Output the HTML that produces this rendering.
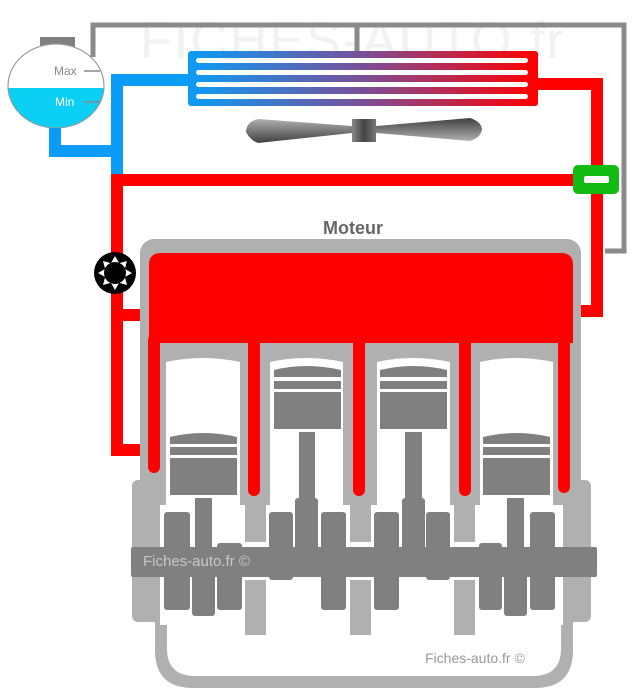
<!DOCTYPE html>
<html><head><meta charset="utf-8"><style>
html,body{margin:0;padding:0;background:#fff;width:640px;height:698px;overflow:hidden}
svg{display:block}
text{font-family:"Liberation Sans",sans-serif}
</style></head><body>
<svg width="640" height="698" viewBox="0 0 640 698" xmlns="http://www.w3.org/2000/svg">
<defs>
<linearGradient id="rad" x1="0" x2="1" y1="0" y2="0">
<stop offset="0" stop-color="#0a9cf7"/><stop offset="0.5" stop-color="#7a4f98"/><stop offset="1" stop-color="#ff0000"/>
</linearGradient>
<linearGradient id="blade" x1="0" x2="0" y1="0" y2="1">
<stop offset="0" stop-color="#b0b0b0"/><stop offset="1" stop-color="#404040"/>
</linearGradient>
<linearGradient id="blade2" x1="0" x2="0" y1="0" y2="1">
<stop offset="0" stop-color="#404040"/><stop offset="1" stop-color="#b0b0b0"/>
</linearGradient>
<linearGradient id="hub" x1="0" x2="1"><stop offset="0" stop-color="#888"/><stop offset="0.5" stop-color="#444"/><stop offset="1" stop-color="#777"/></linearGradient>
</defs>
<text x="140" y="58" font-size="52" fill="#f2f2f2" letter-spacing="2">FICHES-AUTO.fr</text>

<!-- grey pipe -->
<polyline points="93,57 93,25 624,25 624,251 605,251" fill="none" stroke="#8a8a8a" stroke-width="5"/>
<line x1="357" y1="25" x2="357" y2="52" stroke="#8a8a8a" stroke-width="5"/>

<!-- reservoir -->
<rect x="40" y="37" width="35" height="10" fill="#808080"/>
<clipPath id="res"><ellipse cx="56" cy="86" rx="48" ry="42"/></clipPath>
<ellipse cx="56" cy="86" rx="48" ry="42" fill="#fff" stroke="#999" stroke-width="1"/>
<rect x="0" y="88" width="120" height="50" fill="#0ccff4" clip-path="url(#res)"/>
<ellipse cx="56" cy="86" rx="48" ry="42" fill="none" stroke="#999" stroke-width="1"/>
<text x="54" y="75" font-size="12" fill="#888">Max</text>
<line x1="84" y1="71" x2="100" y2="71" stroke="#888" stroke-width="1.5"/>
<text x="55" y="106" font-size="12" fill="#fff">Min</text>
<line x1="84" y1="102" x2="100" y2="102" stroke="#888" stroke-width="1.5"/>

<!-- blue pipes -->
<path d="M55,128 V151 H117 M117,213 V80 H190" fill="none" stroke="#0a9cf7" stroke-width="12"/>

<!-- radiator -->
<rect x="188" y="51" width="350" height="55" rx="3" fill="url(#rad)"/>
<g fill="#fff">
<rect x="196" y="58" width="332" height="5" rx="2.5"/>
<rect x="196" y="70" width="332" height="5" rx="2.5"/>
<rect x="196" y="82" width="332" height="5" rx="2.5"/>
<rect x="196" y="94" width="332" height="5" rx="2.5"/>
</g>

<!-- fan -->
<path d="M352,126 L258,119 Q246,122 246,132 Q250,140 258,143 L352,133 Z" fill="url(#blade)"/>
<path d="M376,126 L470,118 Q482,122 482,130 Q480,138 470,141 L376,133 Z" fill="url(#blade2)"/>
<rect x="352" y="119" width="24" height="23" fill="url(#hub)"/>

<!-- red pipes -->
<path d="M538,84 H597 V166" fill="none" stroke="#ff0000" stroke-width="12"/>
<path d="M597,193 V311 H572" fill="none" stroke="#ff0000" stroke-width="12"/>
<path d="M573,180 H117 V450 H152" fill="none" stroke="#ff0000" stroke-width="12"/>
<rect x="117" y="309" width="25" height="12" fill="#ff0000"/>

<!-- thermostat -->
<rect x="573" y="165" width="46" height="29" rx="5" fill="#11bb11"/>
<rect x="584" y="176" width="25" height="7" rx="2" fill="#fff"/>

<!-- Moteur -->
<text x="353" y="234" font-size="18" font-weight="bold" fill="#666" text-anchor="middle">Moteur</text>

<!-- engine block -->
<rect x="140" y="239" width="441" height="270" rx="14" fill="#b0b0b0"/>
<rect x="132" y="480" width="459" height="142" rx="6" fill="#b0b0b0"/>
<path d="M155,600 H573 V650 Q573,688 535,688 H193 Q155,688 155,650 Z" fill="#b0b0b0"/>
<path d="M167,620 H561 V648 Q561,676 533,676 H195 Q167,676 167,648 Z" fill="#fff"/>
<rect x="160" y="505" width="403" height="120" fill="#fff"/>
<g fill="#fff">
<path d="M166,362 Q203,354 240,362 V510 H166 Z"/>
<path d="M270,362 Q306,354 343,362 V510 H270 Z"/>
<path d="M377,362 Q413,354 450,362 V510 H377 Z"/>
<path d="M480,362 Q516,354 553,362 V510 H480 Z"/>
</g>
<g fill="#b0b0b0">
<rect x="245" y="505" width="21" height="37"/><rect x="350" y="505" width="21" height="37"/><rect x="454" y="505" width="21" height="37"/>
</g>
<path d="M149,343 V265 Q149,253 161,253 H561 Q573,253 573,265 V343 Z" fill="#ff0000"/>
<g stroke="#ff0000" stroke-width="12" stroke-linecap="round" fill="none">
<line x1="154" y1="340" x2="154" y2="467"/>
<line x1="254" y1="340" x2="254" y2="490"/>
<line x1="359" y1="340" x2="359" y2="490"/>
<line x1="465" y1="340" x2="465" y2="490"/>
<line x1="564" y1="340" x2="564" y2="487"/>
</g>

<g fill="#808080">
<path d="M170,437 Q203,429 237,437 V444 H170 Z"/><rect x="170" y="447" width="67" height="8"/><rect x="170" y="458" width="67" height="37"/>
<path d="M274,370 Q306,362 341,370 V377 H274 Z"/><rect x="274" y="381" width="67" height="8"/><rect x="274" y="392" width="67" height="37"/>
<path d="M380,370 Q413,362 447,370 V377 H380 Z"/><rect x="380" y="381" width="67" height="8"/><rect x="380" y="392" width="67" height="37"/>
<path d="M483,437 Q516,429 550,437 V444 H483 Z"/><rect x="483" y="447" width="67" height="8"/><rect x="483" y="458" width="67" height="37"/>
<rect x="195" y="498" width="17" height="110"/>
<rect x="299" y="432" width="16" height="70"/>
<rect x="405" y="432" width="17" height="70"/>
<rect x="507" y="498" width="17" height="110"/>
<rect x="131" y="547" width="466" height="30" rx="2"/>
<rect x="164" y="512" width="26" height="98" rx="3"/>
<rect x="217" y="543" width="25" height="67" rx="3"/>
<rect x="192" y="563" width="23" height="53" rx="3"/>
<rect x="269" y="512" width="24" height="68" rx="3"/>
<rect x="295" y="498" width="23" height="52" rx="3"/>
<rect x="321" y="512" width="25" height="98" rx="3"/>
<rect x="374" y="512" width="25" height="98" rx="3"/>
<rect x="402" y="498" width="23" height="52" rx="3"/>
<rect x="426" y="512" width="24" height="68" rx="3"/>
<rect x="479" y="543" width="23" height="67" rx="3"/>
<rect x="504" y="563" width="23" height="53" rx="3"/>
<rect x="530" y="512" width="25" height="98" rx="3"/>
</g>
<rect x="350" y="580" width="21" height="55" fill="#b0b0b0"/>
<rect x="245" y="580" width="21" height="55" fill="#b0b0b0"/>
<rect x="454" y="580" width="21" height="55" fill="#b0b0b0"/>

<text x="143" y="566" font-size="15" fill="#c8c8c8">Fiches-auto.fr ©</text>
<text x="425" y="663" font-size="14" fill="#999">Fiches-auto.fr ©</text>

<circle cx="115" cy="273" r="21" fill="#000"/>
<g fill="#fff">
<path d="M115,256 L119,263 L111,263 Z"/>
<path d="M115,256 L119,263 L111,263 Z" transform="rotate(45 115 273)"/>
<path d="M115,256 L119,263 L111,263 Z" transform="rotate(90 115 273)"/>
<path d="M115,256 L119,263 L111,263 Z" transform="rotate(135 115 273)"/>
<path d="M115,256 L119,263 L111,263 Z" transform="rotate(180 115 273)"/>
<path d="M115,256 L119,263 L111,263 Z" transform="rotate(225 115 273)"/>
<path d="M115,256 L119,263 L111,263 Z" transform="rotate(270 115 273)"/>
<path d="M115,256 L119,263 L111,263 Z" transform="rotate(315 115 273)"/>
</g>
<circle cx="115" cy="273" r="11" fill="#000"/>
</svg>
</body></html>
